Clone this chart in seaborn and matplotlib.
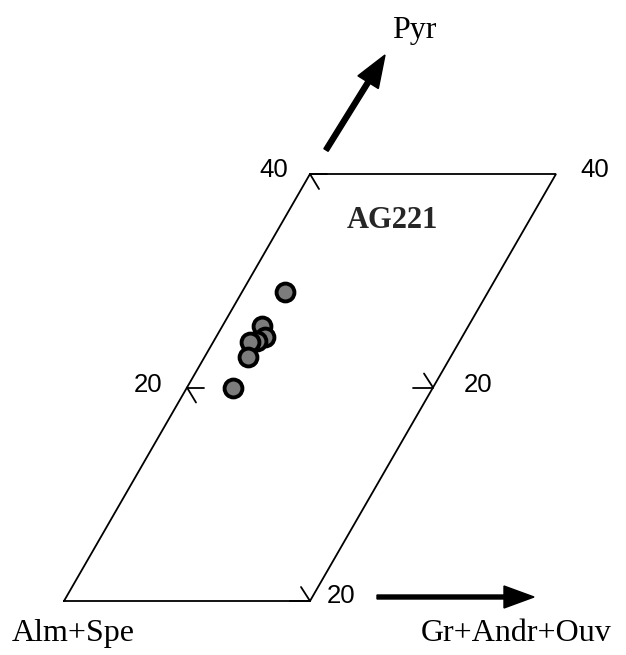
import matplotlib
matplotlib.use("Agg")
import matplotlib.pyplot as plt
import seaborn as sns
import pandas as pd

# ---- data (Gr+Andr+Ouv and Pyr contents, mol %) ----
gr_andr_ouv = [3.48, 3.18, 3.98, 3.49, 2.99, 3.54, 3.72]
pyr = [28.97, 25.79, 24.73, 24.36, 24.26, 22.89, 19.98]
sample_name = "AG221"
gr_max = 20
pyr_max = 40
pyr_ticks = [20, 40]
gr_ticks = [20]
label_origin = "Alm+Spe"
label_x = "Gr+Andr+Ouv"
label_y = "Pyr"

# ---- geometry: oblique frame mapped into pixel space ----
X0, Y0 = 64.0, 601.0      # origin (Alm+Spe corner)
GX = 12.3                 # px per unit Gr
PX, PY = 6.15, 10.675     # px shift per unit Pyr


def to_xy(g, p):
    return X0 + g * GX + p * PX, Y0 - p * PY


sns.set_style("white")
fig = plt.figure(figsize=(6.26, 6.55), dpi=100)
ax = fig.add_axes([0, 0, 1, 1])

# frame
corners = [(0, 0), (gr_max, 0), (gr_max, pyr_max), (0, pyr_max), (0, 0)]
fx, fy = zip(*[to_xy(g, p) for g, p in corners])
ax.plot(fx, fy, color="black", lw=1.3, solid_joinstyle="miter")

# ticks on left edge (Pyr)
for t in pyr_ticks:
    x, y = to_xy(0, t)
    ax.plot([x, x + 17], [y, y], color="black", lw=1.3)
    ax.plot([x, x + 9], [y, y + 15], color="black", lw=1.3)
# ticks on right edge
for t in [0, 20]:
    x, y = to_xy(gr_max, t)
    ax.plot([x, x - 20], [y, y], color="black", lw=1.3)
    ax.plot([x, x - 9], [y, y - 14], color="black", lw=1.3)

# tick labels
num_font = dict(family="Liberation Sans", fontsize=18.5, color="black")
x, y = to_xy(0, 40)
ax.text(x - 22, y + 3, "40", ha="right", va="baseline", **num_font)
x, y = to_xy(gr_max, 40)
ax.text(x + 24, y + 3, "40", ha="left", va="baseline", **num_font)
x, y = to_xy(0, 20)
ax.text(x - 25, y + 5, "20", ha="right", va="baseline", **num_font)
x, y = to_xy(gr_max, 20)
ax.text(x + 31, y + 5, "20", ha="left", va="baseline", **num_font)
x, y = to_xy(gr_max, 0)
ax.text(x + 17, y + 2, str(gr_ticks[0]), ha="left", va="baseline", **num_font)

# data points
df = pd.DataFrame({"g": gr_andr_ouv, "p": pyr})
df["x"], df["y"] = to_xy(df["g"], df["p"])
sns.scatterplot(data=df, x="x", y="y", ax=ax, s=165, color="#7c7c7c",
                edgecolor="black", linewidth=2.8, zorder=5, legend=False)
ax.set_xlim(0, 626)
ax.set_ylim(655, 0)
ax.axis("off")

# sample name
ax.text(392, 228, sample_name, ha="center", va="baseline",
        family="Liberation Serif", fontweight="bold", fontsize=22)

# axis labels
lab_font = dict(family="Liberation Serif", fontsize=23, color="black")
ax.text(12, 641, label_origin, ha="left", va="baseline", **lab_font)
ax.text(421, 641, label_x, ha="left", va="baseline", **lab_font)
ax.text(392, 38, label_y, ha="left", va="baseline", **lab_font)

# arrows
ax.arrow(377, 597, 157, 0, width=4, head_width=22, head_length=30,
         length_includes_head=True, color="black")
ax.arrow(326, 150, 59, -95, width=5, head_width=24, head_length=32,
         length_includes_head=True, color="black")

fig.savefig("out.png", dpi=100)
